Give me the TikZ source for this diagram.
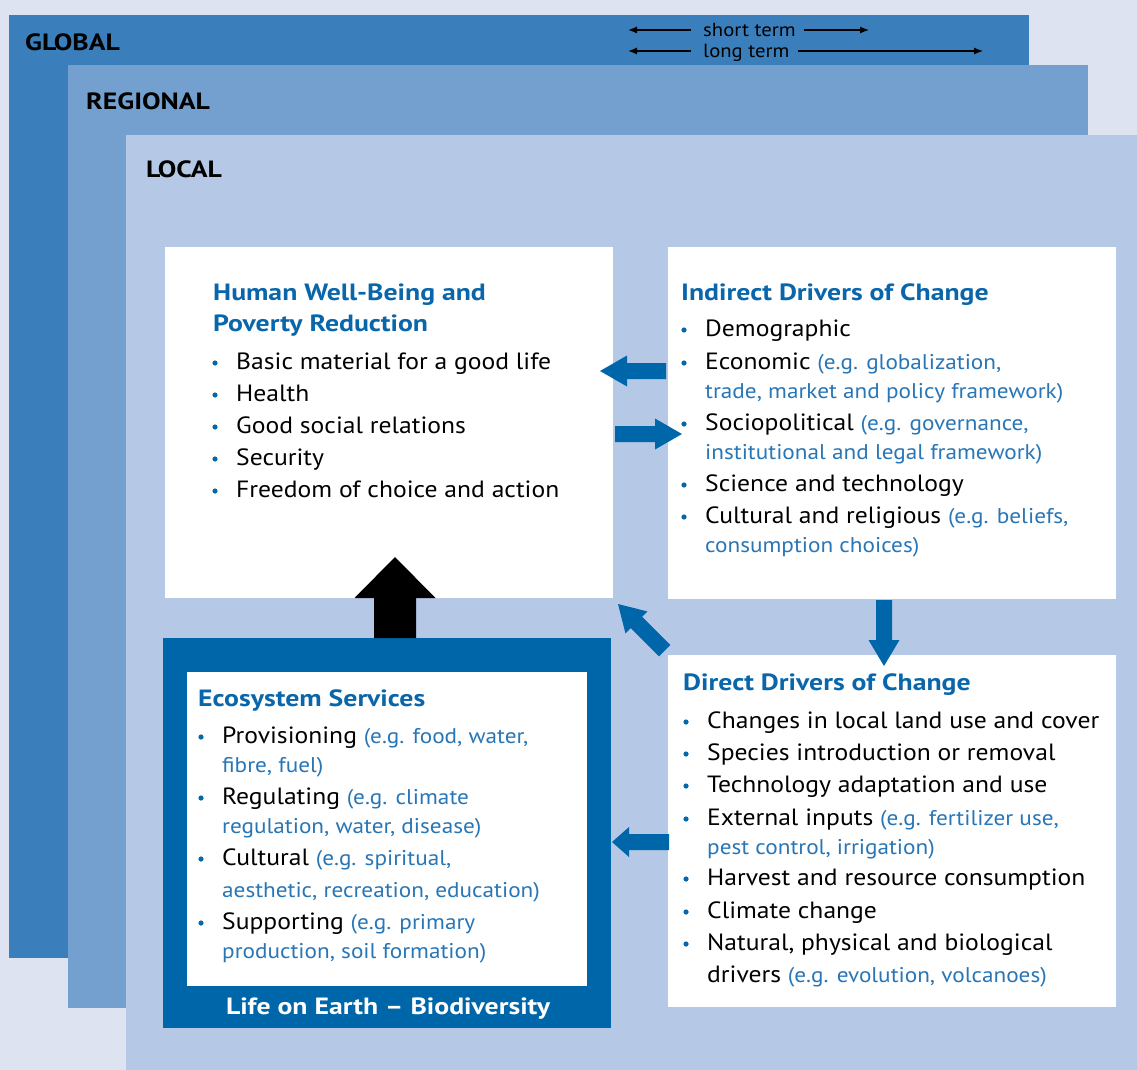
\documentclass[tikz,border=0pt]{standalone}
\usepackage{fontspec}
\setmainfont{PT Sans}[FakeStretch=1.09]
\newfontfamily\hfont{PT Sans}[FakeStretch=1.18,Ligatures=TeX]
\usetikzlibrary{calc,arrows.meta}
\definecolor{bgc}{RGB}{221,227,241}
\definecolor{globc}{RGB}{58,127,187}
\definecolor{regc}{RGB}{115,160,207}
\definecolor{locc}{RGB}{181,200,230}
\definecolor{hblue}{RGB}{10,102,170}
\definecolor{egblue}{RGB}{40,118,182}
\definecolor{abl}{RGB}{0,102,170}
\newcommand\eg[1]{{\fontsize{21.3}{24}\selectfont\color{egblue}#1}}
% block arrow: name, tip x, tip y, rotation, total length, shaft half, head half, head length, colour
\newcommand\barrow[9]{%
  \coordinate (#1) at (#2,#3);
  \fill[#9, shift={(#1)}, rotate=#4] (0,0) -- (#8,#7) -- (#8,#6) -- (#5,#6) -- (#5,-#6) -- (#8,-#6) -- (#8,-#7) -- cycle;}
\newcommand\bul[2]{\fill[hblue] (#1-21,#2-6) circle (2.6pt);}
\begin{document}
\begin{tikzpicture}[x=1pt,y=-1pt,
  area/.style={anchor=north west, inner sep=0pt, outer sep=0pt, minimum width=#1},
  lvl/.style={anchor=base west, inner sep=0pt, font=\fontsize{23.5}{28}\selectfont\hfont\bfseries},
  head/.style={anchor=base west, inner sep=0pt, font=\fontsize{23.5}{28}\selectfont\hfont\bfseries, text=hblue},
  txt/.style={anchor=base west, inner sep=0pt, font=\fontsize{23.5}{28}\selectfont},
  cont/.style={anchor=base west, inner sep=0pt, font=\fontsize{21.3}{24}\selectfont, text=egblue},
  term/.style={anchor=base west, inner sep=0pt, font=\fontsize{19}{22}\selectfont},
  tarrow/.style={-{Latex[length=9pt,width=7pt]}, line width=1.2pt},
]
\useasboundingbox (0,0) rectangle (1137,1070);
\fill[bgc] (0,0) rectangle (1137,1070);
% levels
\node[area=1020pt, minimum height=943pt, fill=globc] (global) at (9,15) {};
\node[area=1020pt, minimum height=943pt, fill=regc] (regional) at (68,65) {};
\node[area=1011pt, minimum height=935pt, fill=locc] (local) at (126,135) {};
\node[lvl] (lglobal) at (25,51) {GLOBAL};
\node[lvl] (lregional) at (86,110) {REGIONAL};
\node[lvl] (llocal) at (146,177) {LOCAL};
% time scale
\node[term] (short) at (703,37) {short term};
\node[term] (long) at (703,58) {long term};
\coordinate (s1) at (628,30); \coordinate (s2) at (869,30);
\coordinate (l1) at (628,51); \coordinate (l2) at (983,51);
\draw[tarrow] (short.west |- 0,30) ++(-12,0) -- (s1);
\draw[tarrow] (short.east |- 0,30) ++(8,0) -- (s2);
\draw[tarrow] (long.west |- 0,51) ++(-12,0) -- (l1);
\draw[tarrow] (long.east |- 0,51) ++(8,0) -- (l2);
% boxes
\node[area=448pt, minimum height=351pt, fill=white] (hwb) at (165,247) {};
\node[area=448pt, minimum height=352pt, fill=white] (ind) at (668,247) {};
\node[area=448pt, minimum height=352pt, fill=white] (dir) at (668,655) {};
\node[area=448pt, minimum height=390pt, fill=abl] (eco) at (163,638) {};
\node[area=400pt, minimum height=314pt, fill=white] (ecoin) at (187,672) {};
\node[anchor=base, inner sep=0pt, font=\fontsize{23.5}{28}\selectfont\hfont\bfseries, text=white] (life) at (388,1014) {Life on Earth \textendash{} Biodiversity};
% Human well-being
\node[head] (h0) at (213,300) {Human Well-Being and};
\node[head] (h0b) at (213,331) {Poverty Reduction};
\node[txt] (h1) at (236,369) {Basic material for a good life}; \bul{236}{369}
\node[txt] (h2) at (236,401) {Health}; \bul{236}{401}
\node[txt] (h3) at (236,433) {Good social relations}; \bul{236}{433}
\node[txt] (h4) at (236,465) {Security}; \bul{236}{465}
\node[txt] (h5) at (236,497) {Freedom of choice and action}; \bul{236}{497}
% Indirect drivers
\node[head] (i0) at (681,300) {Indirect Drivers of Change};
\node[txt] (i1) at (705,336) {Demographic}; \bul{705}{336}
\node[txt] (i2) at (705,369) {Economic \eg{(e.g. globalization,}}; \bul{705}{369}
\node[cont] (i2b) at (705,398) {trade, market and policy framework)};
\node[txt] (i3) at (705,430) {Sociopolitical \eg{(e.g. governance,}}; \bul{705}{430}
\node[cont] (i3b) at (705,459) {institutional and legal framework)};
\node[txt] (i4) at (705,491) {Science and technology}; \bul{705}{491}
\node[txt] (i5) at (705,523) {Cultural and religious \eg{(e.g. beliefs,}}; \bul{705}{523}
\node[cont] (i5b) at (705,552) {consumption choices)};
% Direct drivers
\node[head] (d0) at (683,690) {Direct Drivers of Change};
\node[txt] (d1) at (707,728) {Changes in local land use and cover}; \bul{707}{728}
\node[txt] (d2) at (707,760) {Species introduction or removal}; \bul{707}{760}
\node[txt] (d3) at (707,792) {Technology adaptation and use}; \bul{707}{792}
\node[txt] (d4) at (707,825) {External inputs \eg{(e.g. fertilizer use,}}; \bul{707}{825}
\node[cont] (d4b) at (707,854) {pest control, irrigation)};
\node[txt] (d5) at (707,885) {Harvest and resource consumption}; \bul{707}{885}
\node[txt] (d6) at (707,918) {Climate change}; \bul{707}{918}
\node[txt] (d7) at (707,950) {Natural, physical and biological}; \bul{707}{950}
\node[txt] (d7b) at (707,982) {drivers \eg{(e.g. evolution, volcanoes)}};
% Ecosystem services
\node[head] (e0) at (198,706) {Ecosystem Services};
\node[txt] (e1) at (222,743) {Provisioning \eg{(e.g. food, water,}}; \bul{222}{743}
\node[cont] (e1b) at (222,772) {fibre, fuel)};
\node[txt] (e2) at (222,804) {Regulating \eg{(e.g. climate}}; \bul{222}{804}
\node[cont] (e2b) at (222,833) {regulation, water, disease)};
\node[txt] (e3) at (222,865) {Cultural \eg{(e.g. spiritual,}}; \bul{222}{865}
\node[cont] (e3b) at (222,897) {aesthetic, recreation, education)};
\node[txt] (e4) at (222,929) {Supporting \eg{(e.g. primary}}; \bul{222}{929}
\node[cont] (e4b) at (222,958) {production, soil formation)};
% block arrows
\barrow{a1}{600}{371}{0}{66}{8}{15.5}{27}{abl}
\barrow{a2}{682}{434}{180}{67}{8}{15.5}{27}{abl}
\barrow{a3}{395}{557}{-90}{81}{21}{40.5}{41}{black}
\barrow{a4}{618}{604}{-45}{66}{8}{15.5}{26}{abl}
\barrow{a5}{884}{666}{90}{66}{8}{15.5}{26}{abl}
\barrow{a6}{612}{842}{0}{57}{8}{15}{17}{abl}
\end{tikzpicture}
\end{document}
